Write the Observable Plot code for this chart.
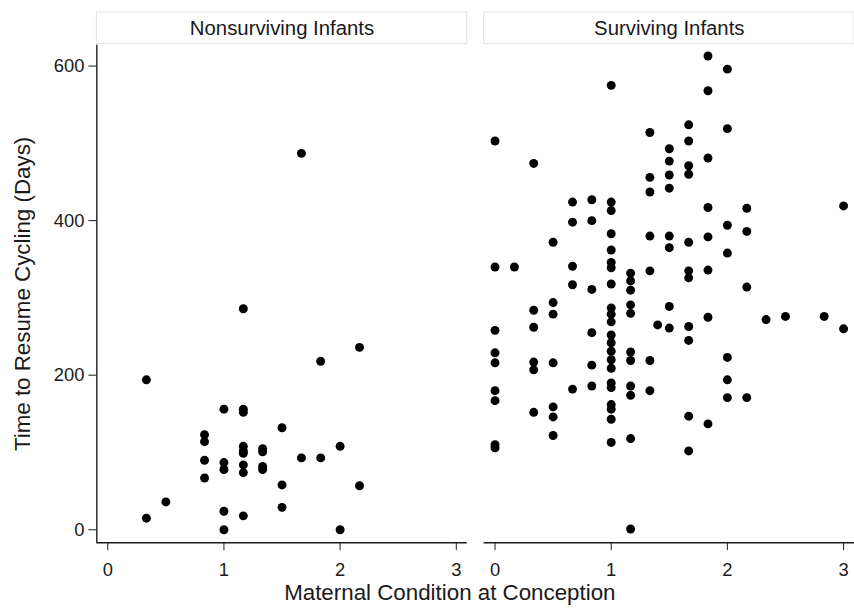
<!DOCTYPE html>
<html><head><meta charset="utf-8">
<script src="https://cdn.jsdelivr.net/npm/d3@7"></script>
<script src="https://cdn.jsdelivr.net/npm/@observablehq/plot@0.6"></script>
<style>html,body{margin:0;padding:0;background:#fff;overflow:hidden}#chart{width:854px;height:611px;overflow:hidden}</style>
</head><body><div id="chart"></div>
<script>
// Panels and tick labels
const panels = ["Nonsurviving Infants", "Surviving Infants"];
const xTicks = [0, 1, 2, 3];
const yTicks = [0, 200, 400, 600];
const xTitle = "Maternal Condition at Conception";
const yTitle = "Time to Resume Cycling (Days)";
const xDomain = [-0.094, 3.094];
const yDomain = [-16.7, 627];

// Nonsurviving infants: maternal condition (x) and days to resume cycling (y)
const nonsurvivingX = [0.333,0.333,0.5,0.833,0.833,0.833,0.833,1,1,1,1,1,1.167,1.167,1.167,1.167,1.167,1.167,1.167,1.167,1.167,1.333,1.333,1.333,1.333,1.5,1.5,1.5,1.667,1.667,1.833,1.833,2,2,2.167,2.167];
const nonsurvivingY = [194,15,36,123,114,90,67,156,87,78,24,0,286,156,152,108,102,99,84,74,18,105,101,82,78,132,58,29,487,93,218,93,108,0,236,57];

// Surviving infants
const survivingX = [
  0,0,0,0,0,0,0,0,0,
  0.167,
  0.333,0.333,0.333,0.333,0.333,0.333,
  0.5,0.5,0.5,0.5,0.5,0.5,0.5,
  0.667,0.667,0.667,0.667,0.667,
  0.833,0.833,0.833,0.833,0.833,0.833,
  1,1,1,1,1,1,1,1,1,1,1,1,1,1,1,1,1,1,1,1,1,1,
  1.167,1.167,1.167,1.167,1.167,1.167,1.167,1.167,1.167,1.167,1.167,
  1.333,1.333,1.333,1.333,1.333,1.333,1.333,
  1.4,
  1.5,1.5,1.5,1.5,1.5,1.5,1.5,1.5,
  1.667,1.667,1.667,1.667,1.667,1.667,1.667,1.667,1.667,1.667,1.667,
  1.833,1.833,1.833,1.833,1.833,1.833,1.833,1.833,
  2,2,2,2,2,2,2,
  2.167,2.167,2.167,2.167,
  2.333,2.5,2.833,
  3,3
];
const survivingY = [
  503,340,258,229,216,180,167,110,106,
  340,
  474,284,262,217,207,152,
  372,294,279,216,159,146,122,
  424,398,341,317,182,
  427,400,311,255,213,186,
  575,424,413,383,362,346,339,318,287,279,269,252,242,231,220,209,190,184,162,156,143,113,
  332,322,310,291,280,230,219,186,174,118,1,
  514,456,437,380,335,219,180,
  265,
  493,477,459,442,380,365,289,261,
  524,503,471,460,372,335,326,263,245,147,102,
  613,568,481,417,379,336,275,137,
  596,519,394,358,223,194,171,
  416,386,314,171,
  272,276,276,
  419,260
];

const points = [
  ...nonsurvivingX.map((x, i) => ({panel: panels[0], x, y: nonsurvivingY[i]})),
  ...survivingX.map((x, i) => ({panel: panels[1], x, y: survivingY[i]}))
];

const font = "'Liberation Sans', Arial, sans-serif";
const ink = "#1a1a1a";

const chart = Plot.plot({
  width: 860,
  height: 611,
  marginLeft: 97,
  marginRight: 0,
  marginTop: 45,
  marginBottom: 65,
  style: {fontFamily: font, fontSize: "18.5px", color: ink, background: "#fff"},
  fx: {domain: panels, axis: null, paddingInner: 17 / 390, paddingOuter: 0},
  x: {domain: xDomain},
  y: {domain: yDomain},
  marks: [
    Plot.rect(panels, {fx: d => d, fill: "#fff", stroke: "#e2e2e2", insetBottom: 469, dy: -33}),
    Plot.text(panels, {fx: d => d, text: d => d, frameAnchor: "top", lineAnchor: "middle", dy: -17, fontSize: 20.5, fill: ink}),
    Plot.axisX({ticks: xTicks, tickFormat: "d", tickSize: 8, tickPadding: 12, label: null, stroke: ink, fill: ink, fontSize: 18.5}),
    Plot.axisY({ticks: yTicks, tickFormat: "d", tickSize: 8, tickPadding: 4.5, label: null, stroke: ink, fill: ink, fontSize: 18.5}),
    Plot.ruleY([yDomain[0]], {stroke: ink, strokeWidth: 1.4}),
    Plot.ruleX([xDomain[0]], {stroke: ink, strokeWidth: 1.4, facetAnchor: "left"}),
    Plot.dot(points, {fx: "panel", x: "x", y: "y", r: 4.5, fill: "#000", stroke: null}),
    Plot.text([xTitle], {facet: "super", frameAnchor: "bottom", textAnchor: "middle", lineAnchor: "middle", dx: -26, dy: 51, fontSize: 22.5, fill: ink}),
    Plot.text([yTitle], {facet: "super", frameAnchor: "left", textAnchor: "middle", lineAnchor: "middle", rotate: -90, dx: -74, fontSize: 22.5, fill: ink})
  ]
});
document.getElementById("chart").append(chart);
</script>
</body></html>
